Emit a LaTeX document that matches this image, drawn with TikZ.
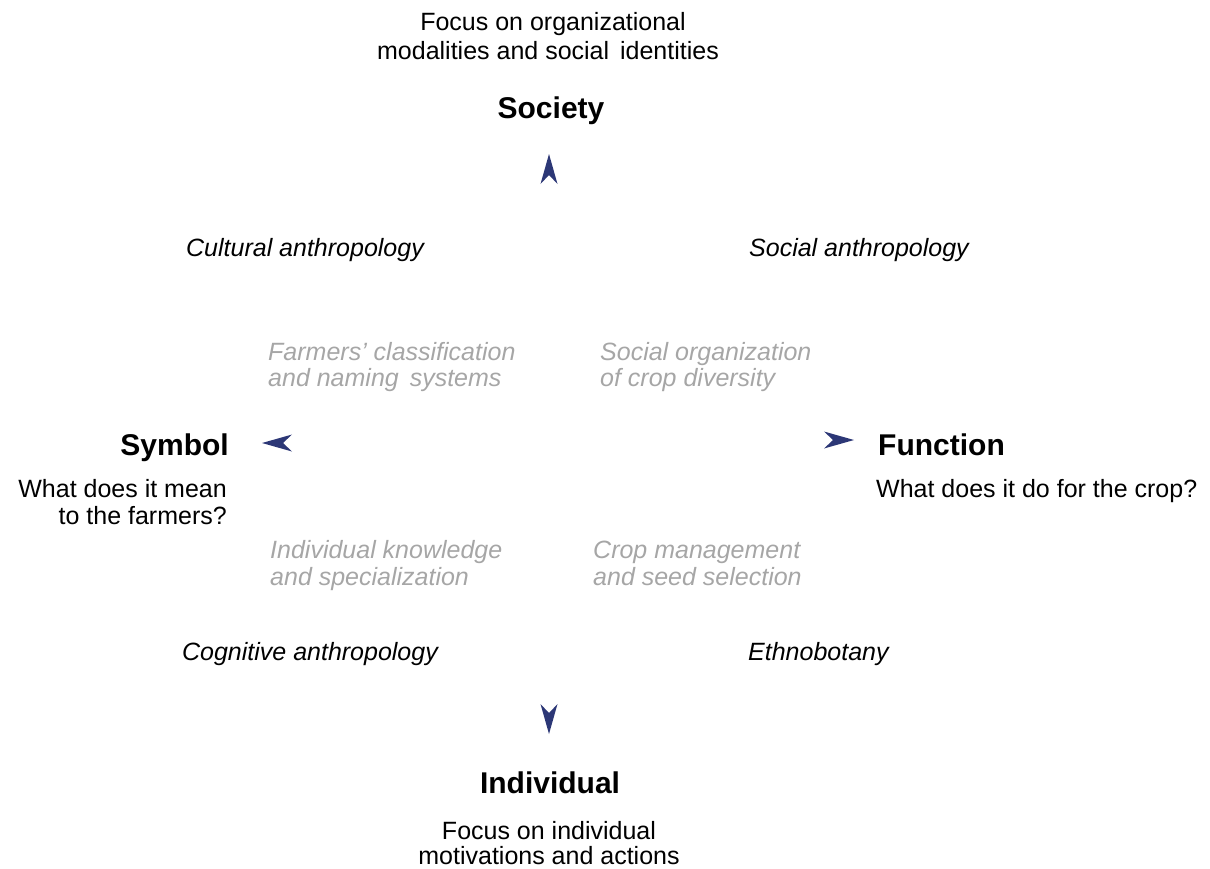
\documentclass[tikz,border=0pt]{standalone}
\usepackage{fontspec}
\setmainfont{Liberation Sans}
\definecolor{arrownavy}{HTML}{2C3776}
\definecolor{topicgray}{HTML}{A6A6A6}
\tikzset{
  txt/.style={font=\fontsize{25}{29}\selectfont, inner sep=0pt, anchor=base},
  head/.style={font=\fontsize{30}{34}\selectfont\bfseries, inner sep=0pt, anchor=base},
  field/.style={font=\fontsize{25}{29}\selectfont\itshape, inner sep=0pt, anchor=base},
  topic/.style={font=\fontsize{25}{29}\selectfont\itshape, text=topicgray, inner sep=0pt, anchor=base west},
  navarrow/.pic={\fill[arrownavy] (0,0) -- (-30,-8.5) -- (-21,0) -- (-30,8.5) -- cycle;}
}
\begin{document}
\begin{tikzpicture}[x=1pt,y=-1pt]
\useasboundingbox (0,0) rectangle (1210,868);
% top
\node[txt] (t1) at (553,30) {Focus on organizational};
\node[txt] (t2) at (548,59) {modalities and social\hspace{4pt} identities};
\node[head] (society) at (551,118) {Society};
\pic[rotate=90] at (549,154) {navarrow};
% fields
\node[field] (cult) at (305,256) {Cultural anthropology};
\node[field] (soc) at (859,256) {Social anthropology};
\node[field] (cog) at (310,660) {Cognitive anthropology};
\node[field, anchor=base west] (eth) at (748,660) {Ethnobotany};
% topics
\node[topic] (f1) at (268,360) {Farmers’ classification};
\node[topic] (f2) at (268,386) {and naming\hspace{4pt} systems};
\node[topic] (s1) at (600,360) {Social organization};
\node[topic] (s2) at (600,386) {of crop diversity};
\node[topic] (i1) at (270,558) {Individual knowledge};
\node[topic] (i2) at (270,585) {and specialization};
\node[topic] (c1) at (593,558) {Crop management};
\node[topic] (c2) at (593,585) {and seed selection};
% left
\node[head, anchor=base east] (symbol) at (229,455) {Symbol};
\node[txt, anchor=base east] (sy1) at (227,497) {What does it mean};
\node[txt, anchor=base east] (sy2) at (227,524) {to the farmers?};
\pic[rotate=180] at (262,443) {navarrow};
% right
\pic at (854,440) {navarrow};
\node[head, anchor=base west] (function) at (878,455) {Function};
\node[txt, anchor=base west] (fu1) at (876,497) {What does it do for the crop?};
% bottom
\pic[rotate=-90] at (549,734) {navarrow};
\node[head] (individual) at (550,793) {Individual};
\node[txt] (b1) at (549,839) {Focus on individual};
\node[txt] (b2) at (549,864) {motivations and actions};
\end{tikzpicture}
\end{document}
